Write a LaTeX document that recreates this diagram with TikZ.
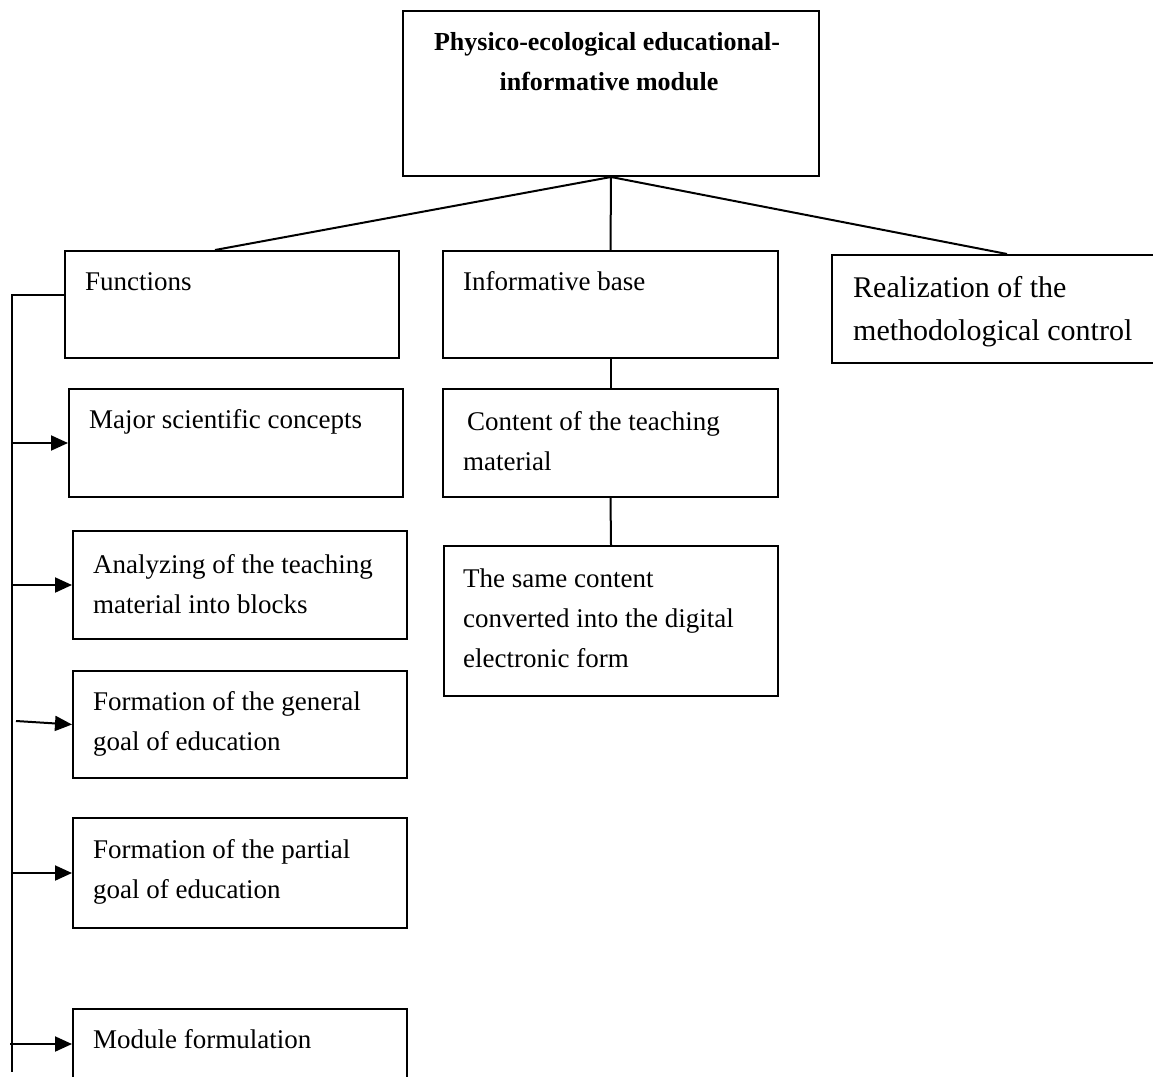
\documentclass[tikz,border=0pt]{standalone}
\usepackage{fontspec}
\setmainfont{Liberation Serif}
\usetikzlibrary{arrows.meta,calc}
\tikzset{
  box/.style={draw, line width=2pt, rectangle, inner sep=0pt, anchor=north west},
  txt/.style={anchor=base west, inner sep=0pt, font=\fontsize{27}{40}\selectfont},
  bigtxt/.style={anchor=base west, inner sep=0pt, font=\fontsize{30}{43}\selectfont},
  ttl/.style={anchor=base, inner sep=0pt, font=\fontsize{26}{40}\selectfont\bfseries},
  conn/.style={line width=2pt},
  arr/.style={line width=2pt, -{Triangle[length=17pt,width=15pt]}},
}
\newcommand{\lns}[1]{\begin{tabular}[t]{@{}l@{}}#1\end{tabular}}
\begin{document}
\begin{tikzpicture}[x=1pt,y=-1pt]
\useasboundingbox (0,0) rectangle (1153,1076);
% boxes
\node[box, minimum width=416pt, minimum height=165pt] (top) at (402,10) {};
\node[box, minimum width=334pt, minimum height=107pt] (fun) at (64,250) {};
\node[box, minimum width=335pt, minimum height=107pt] (inf) at (442,250) {};
\node[box, minimum width=340pt, minimum height=108pt] (real) at (831,254) {};
\node[box, minimum width=334pt, minimum height=108pt] (maj) at (68,388) {};
\node[box, minimum width=335pt, minimum height=108pt] (cont) at (442,388) {};
\node[box, minimum width=334pt, minimum height=150pt] (same) at (443,545) {};
\node[box, minimum width=334pt, minimum height=108pt] (ana) at (72,530) {};
\node[box, minimum width=334pt, minimum height=107pt] (gen) at (72,670) {};
\node[box, minimum width=334pt, minimum height=110pt] (part) at (72,817) {};
\node[box, minimum width=334pt, minimum height=90pt] (mod) at (72,1008) {};
% texts
\node[ttl] (toptxt1) at (607,50) {Physico-ecological educational-};
\node[ttl] (toptxt2) at (609,90) {informative module};
\node[txt] (funtxt) at (85,290) {Functions};
\node[txt] (inftxt) at (463,290) {Informative base};
\node[bigtxt] (realtxt) at (853,297) {\lns{Realization of the\\methodological control}};
\node[txt] (majtxt) at (89,428) {Major scientific concepts};
\node[txt] (conttxt) at (467,430) {Content of the teaching};
\node[txt] (conttxt2) at (463,470) {material};
\node[txt] (sametxt) at (463,587) {\lns{The same content\\converted into the digital\\electronic form}};
\node[txt] (anatxt) at (93,573) {\lns{Analyzing of the teaching\\material into blocks}};
\node[txt] (gentxt) at (93,710) {\lns{Formation of the general\\goal of education}};
\node[txt] (parttxt) at (93,858) {\lns{Formation of the partial\\goal of education}};
\node[txt] (modtxt) at (93,1048) {Module formulation};
% connectors from top
\draw[conn] (top.south) -- ($(fun.north west)+(151,0)$);
\draw[conn] (top.south) -- (inf.north);
\draw[conn] (top.south) -- ($(real.north west)+(176,0)$);
\draw[conn] (inf.south) -- (cont.north);
\draw[conn] (cont.south) -- (same.north);
% left bus
\coordinate (b0) at (12,295);
\coordinate (b1) at (12,1072);
\draw[conn] ($(fun.north west)+(0,45)$) -- (b0) -- (b1);
\coordinate (a3) at (16,721);
\coordinate (a5) at (10,1044);
\draw[arr] (maj.west -| b0) -- (maj.west);
\draw[arr] (ana.west -| b0) -- (ana.west);
\draw[arr] (a3) -- (gen.west);
\draw[arr] (part.west -| b0) -- (part.west);
\draw[arr] (a5) -- (a5 -| mod.west);
\end{tikzpicture}
\end{document}
